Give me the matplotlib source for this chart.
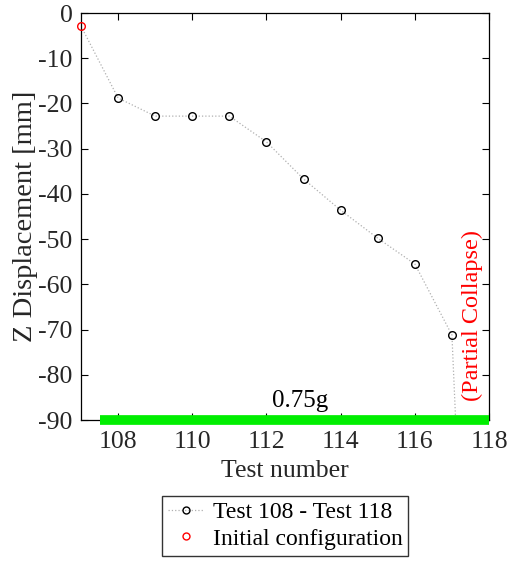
import numpy as np
import matplotlib.pyplot as plt

plt.rcParams['font.family'] = ['Liberation Serif', 'DejaVu Serif']
plt.rcParams['axes.unicode_minus'] = False

# test number vs. vertical displacement
test_no = [107, 108, 109, 110, 111, 112, 113, 114, 115, 116, 117]
z_disp = [-2.9, -18.8, -22.8, -22.8, -22.8, -28.5, -36.7, -43.6, -49.8, -55.5, -71.2]
collapse_x = 117.1
collapse_y = -90
pga_label = '0.75g'
pga_range = [107.5, 118]

fig = plt.figure(figsize=(5.14, 5.61), dpi=100)
ax = fig.add_axes([0.1576, 0.2513, 0.7938, 0.7255])

# dotted connection incl. drop to collapse
ax.plot(test_no + [collapse_x], z_disp + [collapse_y], ':', color='#b0b0b0', lw=0.9, zorder=2)
ax.plot(test_no[1:], z_disp[1:], 'o', mfc='none', mec='black', ms=5.5, mew=1.0, zorder=3)
ax.plot(test_no[0], z_disp[0], 'o', mfc='none', mec='red', ms=5.5, mew=1.0, zorder=4, clip_on=False)

# shaking intensity bar
ax.plot(pga_range, [-90, -90], '-', color='#00ee00', lw=7, solid_capstyle='butt', zorder=5, clip_on=False)
ax.text(112.9, -85.8, pga_label, fontsize=18, ha='center', va='center')
ax.text(117.55, -66.8, '(Partial Collapse)', color='red', fontsize=17.5, rotation=90,
        ha='center', va='center')

ax.set_xlim(107, 118)
ax.set_ylim(-90, 0)
ax.set_xticks(np.arange(108, 119, 2))
ax.set_yticks(np.arange(-90, 1, 10))
ax.tick_params(direction='in', top=True, right=True, labelsize=18.5, length=5, width=0.8,
               labelcolor='#262626')
ax.tick_params(axis='x', pad=8)
ax.tick_params(axis='y', pad=6)
for s in ax.spines.values():
    s.set_linewidth(0.9)
ax.set_xlabel('Test number', fontsize=18.5, labelpad=5, color='#262626')
ax.set_ylabel('Z Displacement [mm]', fontsize=20.5, labelpad=0, color='#262626')

h1, = ax.plot([], [], ':', color='#b0b0b0', lw=0.9, marker='o', mfc='none', mec='black', ms=5)
h2, = ax.plot([], [], 'o', mfc='none', mec='red', ms=5, ls='none')
fig.legend([h1, h2], ['Test 108 - Test 118', 'Initial configuration'],
           loc='upper center', bbox_to_anchor=(0.555, 0.116), fontsize=17,
           fancybox=False, edgecolor='#333333', framealpha=1,
           handlelength=1.5, handletextpad=0.4, borderpad=0.25, labelspacing=0.2,
           borderaxespad=0)

fig.savefig('out.png', dpi=100)
